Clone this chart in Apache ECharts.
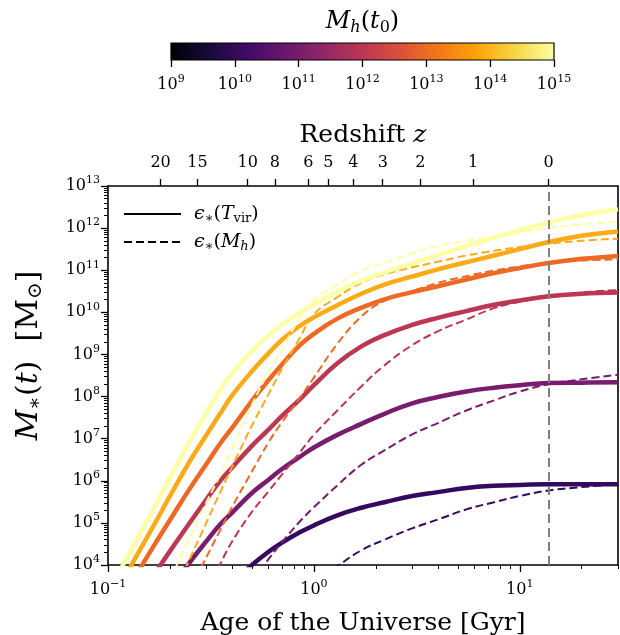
<!DOCTYPE html>
<html><head><meta charset="utf-8">
<script src="https://cdn.jsdelivr.net/npm/echarts@6/dist/echarts.min.js"></script>
<style>html,body{margin:0;padding:0;background:#fff}#c{width:620px;height:635px}</style>
</head><body><div id="c"></div>
<script>
// ---- data (ages in Gyr, stellar masses as log10 M/Msun) ----
const ages = [0.1,0.12,0.14,0.17,0.2,0.25,0.3,0.35,0.4,0.5,0.6,0.7,0.85,1.0,1.3,1.7,2.2,3,4,5.5,7.5,10,13.8,20,30];
// solid: eps*(T_vir)
const solid10 = [null,null,null,null,null,null,null,null,3.56,4.0,4.31,4.53,4.77,4.94,5.18,5.36,5.49,5.64,5.73,5.83,5.88,5.90,5.92,5.92,5.92];
const solid11 = [null,null,null,null,3.44,4.07,4.56,4.96,5.24,5.71,6.02,6.28,6.56,6.79,7.09,7.35,7.59,7.84,7.99,8.12,8.21,8.27,8.32,8.33,8.34];
const solid12 = [null,null,null,3.82,4.33,5.01,5.55,5.99,6.31,6.83,7.21,7.54,7.92,8.27,8.79,9.19,9.46,9.70,9.87,10.03,10.18,10.28,10.38,10.44,10.47];
const solid13 = [2.64,3.29,3.84,4.52,5.07,5.82,6.39,6.88,7.25,7.90,8.38,8.76,9.21,9.49,9.85,10.11,10.31,10.48,10.62,10.78,10.93,11.05,11.17,11.27,11.34];
const solid14 = [3.02,3.70,4.28,5.01,5.64,6.47,7.08,7.59,8.02,8.60,9.02,9.35,9.67,9.88,10.17,10.44,10.66,10.85,11.02,11.19,11.35,11.50,11.67,11.82,11.92];
const solid15 = [3.36,4.06,4.66,5.42,6.08,6.95,7.61,8.15,8.55,9.08,9.44,9.71,9.98,10.19,10.49,10.75,10.95,11.16,11.36,11.57,11.77,11.95,12.13,12.31,12.45];
// dashed: eps*(M_h)
const dashed10 = [null,null,null,null,null,null,null,null,null,null,null,null,null,3.57,3.97,4.35,4.60,4.87,5.08,5.32,5.49,5.64,5.77,5.85,5.92];
const dashed11 = [null,null,null,null,null,null,null,null,null,3.63,4.13,4.54,5.02,5.37,5.89,6.38,6.72,7.10,7.37,7.67,7.91,8.12,8.29,8.41,8.52];
const dashed12 = [null,null,null,null,null,null,3.41,4.02,4.55,5.26,5.74,6.15,6.66,7.09,7.67,8.24,8.74,9.22,9.55,9.83,10.10,10.25,10.37,10.47,10.53];
const dashed13 = [null,null,null,null,null,3.43,4.18,4.82,5.37,6.22,6.90,7.39,7.95,8.45,9.25,9.90,10.27,10.50,10.70,10.86,10.99,11.09,11.18,11.23,11.26];
const dashed14 = [null,null,null,null,3.10,4.15,5.0,5.72,6.32,7.31,8.04,8.66,9.37,9.95,10.36,10.70,10.90,11.07,11.20,11.35,11.46,11.55,11.63,11.70,11.75];
const dashed15 = [null,null,null,null,3.65,4.66,5.48,6.13,6.75,7.80,8.57,9.13,9.85,10.28,10.65,10.99,11.17,11.40,11.58,11.70,11.80,11.90,12.01,12.09,12.15];
const haloMasses = ['1e10','1e11','1e12','1e13','1e14','1e15'];
const lineColors = ['#330a5f','#781c6d','#bc3754','#ed6925','#fbab17','#fcffa4'];
// tick labels / axes
const xMajor = [0.1, 1, 10];
const yMajor = [1e4,1e5,1e6,1e7,1e8,1e9,1e10,1e11,1e12,1e13];
const zLabels = ['20','15','10','8','6','5','4','3','2','1','0'];
const zAges = [0.180,0.272,0.477,0.647,0.939,1.174,1.556,2.16,3.29,5.93,13.79];
const t0 = 13.79;
const cbTicks = [1e9,1e10,1e11,1e12,1e13,1e14,1e15];

// ---- helpers ----
const serif = 'DejaVu Serif';
function minors(lo, hi, max) { const o = []; for (let e = lo; e < hi; e++) for (let k = 2; k <= 9; k++) { const v = k * Math.pow(10, e); if (v <= max) o.push(v); } return o; }
const xMinor = minors(-1, 2, 30);
const yMinor = minors(4, 13, 1e13);
function supLabel(v) { const e = Math.round(Math.log10(v)); return '{b|10}{sup|' + (e < 0 ? '\u2212' + (-e) : e) + '}'; }
function zLabel(v) { let best = 0, bd = 1e9; zAges.forEach((a, i) => { const d = Math.abs(Math.log10(a) - Math.log10(v)); if (d < bd) { bd = d; best = i; } }); return zLabels[best]; }
const richTick = {
  b: { fontFamily: serif, fontSize: 16, color: '#000' },
  sup: { fontFamily: serif, fontSize: 11, color: '#000', lineHeight: 12, padding: [0, 0, 11, 0] }
};
function mathRich(size) {
  return {
    i: { fontFamily: serif, fontStyle: 'italic', fontSize: size, color: '#000' },
    r: { fontFamily: serif, fontSize: size, color: '#000' },
    s: { fontFamily: serif, fontSize: Math.round(size * 0.68), color: '#000', lineHeight: 10, padding: [Math.round(size * 0.45), 0, 0, 0] },
    si: { fontFamily: serif, fontStyle: 'italic', fontSize: Math.round(size * 0.68), color: '#000', lineHeight: 10, padding: [Math.round(size * 0.45), 0, 0, 0] }
  };
}
function pts(arr) { const d = []; arr.forEach((v, i) => { if (v !== null) d.push([ages[i], Math.pow(10, v)]); }); return d; }
const inferno = ['#000004','#160b39','#420a68','#6a176e','#932667','#bc3754','#dd513a','#f37819','#fca50a','#f6d746','#fcffa4'];

const solids = [solid10, solid11, solid12, solid13, solid14, solid15];
const dasheds = [dashed10, dashed11, dashed12, dashed13, dashed14, dashed15];
const series = [];
solids.forEach((s, k) => {
  series.push({ type: 'line', name: 's' + haloMasses[k], xAxisIndex: 0, yAxisIndex: 0, data: pts(s), symbol: 'none', smooth: 0.45, clip: true,
    lineStyle: { color: lineColors[k], width: 4.5 }, itemStyle: { color: lineColors[k] }, silent: true });
  series.push({ type: 'line', name: 'd' + haloMasses[k], xAxisIndex: 0, yAxisIndex: 0, data: pts(dasheds[k]), symbol: 'none', smooth: 0.45, clip: true,
    lineStyle: { color: lineColors[k], width: 2, type: [8, 4] }, itemStyle: { color: lineColors[k] }, silent: true });
});
series[series.length - 1].markLine = { symbol: 'none', silent: true, label: { show: false },
  lineStyle: { color: '#808080', width: 2, type: [9, 5] }, data: [{ xAxis: t0 }] };
series.push({ type: 'line', name: 'tvir', data: [], symbol: 'none', lineStyle: { color: '#000', width: 4.5 }, itemStyle: { color: '#000' } });
series.push({ type: 'line', name: 'mh', data: [], symbol: 'none', lineStyle: { color: '#000', width: 2, type: [8, 4] }, itemStyle: { color: '#000' } });

const tickStyle = { color: '#000', width: 1.3 };
const chart = echarts.init(document.getElementById('c'), null, { renderer: 'canvas', width: 620, height: 635 });
chart.setOption({
  animation: false,
  backgroundColor: '#fff',
  grid: [
    { left: 108, top: 186, width: 510, height: 379, show: true, borderColor: '#000', borderWidth: 1.6, backgroundColor: 'rgba(0,0,0,0)', containLabel: false, outerBoundsMode: 'none' },
    { left: 171, top: 43, width: 383, height: 17, show: true, borderColor: '#000', borderWidth: 1.2, containLabel: false, outerBoundsMode: 'none',
      backgroundColor: { type: 'linear', x: 0, y: 0, x2: 1, y2: 0, colorStops: inferno.map((c, i) => ({ offset: i / (inferno.length - 1), color: c })) } }
  ],
  legend: {
    left: 118, top: 198, orient: 'vertical', itemWidth: 57, itemHeight: 2, itemGap: 6,
    data: ['tvir', 'mh'], selectedMode: false,
    itemStyle: { opacity: 0 },
    formatter: n => n === 'tvir' ? '{i|\u03f5}{s|\u2217}{r|(}{i|T}{s|vir}{r|)}' : '{i|\u03f5}{s|\u2217}{r|(}{i|M}{si|h}{r|)}',
    textStyle: { padding: [0, 0, 0, 8], rich: mathRich(19) }
  },
  xAxis: [
    { gridIndex: 0, type: 'log', logBase: 10, min: 0.1, max: 30, position: 'bottom',
      axisLine: { show: false, onZero: false }, splitLine: { show: false },
      axisTick: { customValues: xMajor, length: 7, lineStyle: tickStyle },
      axisLabel: { customValues: xMajor, formatter: supLabel, margin: 17, rich: richTick },
      name: 'Age of the Universe [Gyr]', nameLocation: 'middle', nameGap: 46, nameMoveOverlap: false,
      nameTextStyle: { fontFamily: serif, fontSize: 25, color: '#000' } },
    { gridIndex: 0, type: 'log', logBase: 10, min: 0.1, max: 30, position: 'bottom',
      axisLine: { show: false, onZero: false }, splitLine: { show: false },
      axisTick: { customValues: xMinor, length: 4, lineStyle: { color: '#000', width: 1 } },
      axisLabel: { show: false } },
    { gridIndex: 0, type: 'log', logBase: 10, min: 0.1, max: 30, position: 'top',
      axisLine: { show: false, onZero: false }, splitLine: { show: false },
      axisTick: { customValues: zAges, length: 7, lineStyle: tickStyle },
      axisLabel: { customValues: zAges, formatter: zLabel, margin: 15, fontFamily: serif, fontSize: 16, color: '#000' },
      name: '{r|Redshift }{i|z}', nameLocation: 'middle', nameGap: 38, nameMoveOverlap: false,
      nameTextStyle: { rich: mathRich(25) } },
    { gridIndex: 1, type: 'log', logBase: 10, min: 1e9, max: 1.0000001e15, position: 'bottom',
      axisLine: { show: false, onZero: false }, splitLine: { show: false },
      axisTick: { customValues: cbTicks, length: 7, lineStyle: tickStyle },
      axisLabel: { customValues: cbTicks, formatter: supLabel, margin: 17, rich: richTick } },
    { gridIndex: 1, type: 'log', logBase: 10, min: 1e9, max: 1.0000001e15, position: 'top',
      axisLine: { show: false, onZero: false }, splitLine: { show: false },
      axisTick: { show: false }, axisLabel: { show: false },
      name: '{i|M}{si|h}{r|(}{i|t}{s|0}{r|)}', nameLocation: 'middle', nameGap: 9, nameMoveOverlap: false,
      nameTextStyle: { rich: mathRich(24) } }
  ],
  yAxis: [
    { gridIndex: 0, type: 'log', logBase: 10, min: 1e4, max: 1e13, position: 'left',
      axisLine: { show: false, onZero: false }, splitLine: { show: false },
      axisTick: { customValues: yMajor, length: 7, lineStyle: tickStyle },
      axisLabel: { customValues: yMajor, formatter: supLabel, margin: 8, rich: richTick },
      name: '{i|M}{s|\u2217}{r|(}{i|t}{r|)  [M}{s|\u2299}{r|]}', nameLocation: 'middle', nameRotate: 90, nameGap: 64, nameMoveOverlap: false,
      nameTextStyle: { rich: mathRich(30), padding: [0, 0, 0, 40] } },
    { gridIndex: 0, type: 'log', logBase: 10, min: 1e4, max: 1e13, position: 'left',
      axisLine: { show: false, onZero: false }, splitLine: { show: false },
      axisTick: { customValues: yMinor, length: 4, lineStyle: { color: '#000', width: 1 } },
      axisLabel: { show: false } },
    { gridIndex: 1, type: 'value', min: 0, max: 1, show: false }
  ],
  series: series
});
</script>
</body></html>
